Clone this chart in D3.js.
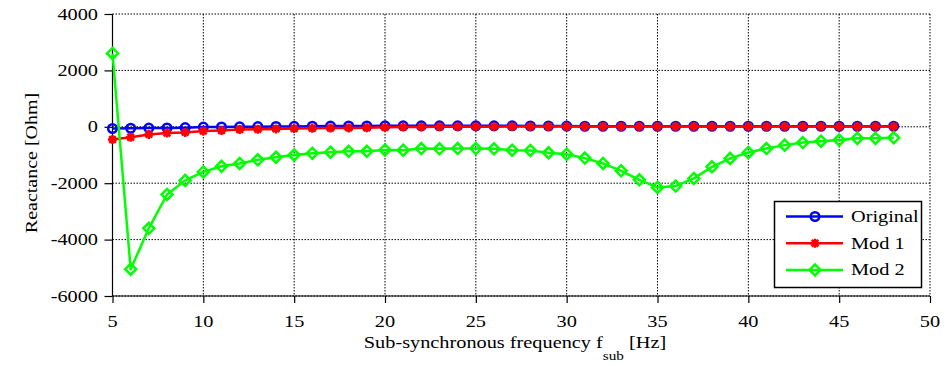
<!DOCTYPE html>
<html>
<head>
<meta charset="utf-8">
<script src="https://cdn.jsdelivr.net/npm/d3@7"></script>
<style>
  body { margin: 0; background: #fff; }
  svg { display: block; }
</style>
</head>
<body>
<svg id="chart" width="946" height="365"></svg>
<script>
// data
const freq = [5, 6, 7, 8, 9, 10, 11, 12, 13, 14, 15, 16, 17, 18, 19, 20, 21, 22, 23, 24, 25, 26,
  27, 28, 29, 30, 31, 32, 33, 34, 35, 36, 37, 38, 39, 40, 41, 42, 43, 44, 45, 46, 47, 48];
const original = [-60, -50, -45, -40, -30, -10, -5, 0, 5, 10, 15, 20, 25, 30, 30, 35, 35, 35, 35, 35, 35, 35,
  35, 30, 30, 25, 20, 20, 20, 20, 20, 20, 20, 20, 20, 20, 20, 20, 20, 20, 20, 20, 20, 20];
const mod1 = [-450, -370, -270, -220, -200, -150, -130, -100, -85, -75, -60, -50, -45, -40, -35, -20, -10, -5, 0, 5, 5, 5,
  10, 10, 10, 10, 10, 10, 10, 10, 10, 10, 10, 10, 10, 10, 10, 10, 10, 10, 10, 10, 10, 10];
const mod2 = [2600, -5050, -3600, -2400, -1900, -1600, -1400, -1300, -1170, -1080, -1000, -940, -900, -870, -870, -820, -830, -770, -780, -770, -770, -780,
  -830, -840, -920, -970, -1110, -1300, -1560, -1880, -2150, -2100, -1830, -1420, -1120, -910, -770, -650, -560, -510, -470, -410, -410, -390];

const xTicks = [5, 10, 15, 20, 25, 30, 35, 40, 45, 50];
const yTicks = [-6000, -4000, -2000, 0, 2000, 4000];
const seriesNames = ['Original', 'Mod 1', 'Mod 2'];
const seriesColors = ['#0000ff', '#ff0000', '#00ff00'];
const seriesMarkers = ['circle', 'star', 'diamond'];

const FONT = '"Liberation Serif", "Times New Roman", serif';
const svg = d3.select('#chart');
const plotL = 112.5, plotR = 930, plotT = 14, plotB = 296;
const SX = 1.27; // text in the picture is stretched sideways
const LW = 2.5;

const x = d3.scaleLinear().domain([5, 50]).range([plotL, plotR]);
const y = d3.scaleLinear().domain([-6000, 4000]).range([plotB, plotT]);

function stretchedText(px, py, str, anchor) {
  const g = svg.append('g').attr('transform', `translate(${px},${py}) scale(${SX},1)`);
  return g.append('text')
    .attr('text-anchor', anchor || 'start')
    .attr('font-family', FONT)
    .attr('font-size', 16)
    .attr('fill', '#000')
    .text(str);
}

// grid
const grid = svg.append('g')
  .attr('stroke', '#000')
  .attr('stroke-width', 1)
  .attr('stroke-dasharray', '1.5,1.5');
grid.selectAll('line.gx').data(xTicks).enter().append('line')
  .attr('x1', d => x(d)).attr('x2', d => x(d))
  .attr('y1', plotT).attr('y2', plotB);
grid.selectAll('line.gy').data(yTicks).enter().append('line')
  .attr('x1', plotL).attr('x2', plotR)
  .attr('y1', d => y(d)).attr('y2', d => y(d));

// axes
const xAxis = d3.axisBottom(x).tickValues(xTicks).tickSize(7).tickFormat('');
const yAxis = d3.axisLeft(y).tickValues(yTicks).tickSize(8).tickFormat('');
svg.append('g').attr('transform', `translate(0,${plotB})`).call(xAxis)
  .call(g => g.select('.domain').attr('d', `M${plotL},0H${plotR}`));
svg.append('g').attr('transform', `translate(${plotL},0)`).call(yAxis)
  .call(g => g.select('.domain').attr('d', `M0,${plotT}V${plotB}`));
svg.selectAll('.domain, .tick line').attr('stroke', '#000').attr('stroke-width', 1.2);

xTicks.forEach(t => stretchedText(x(t), 327, String(t), 'middle'));
yTicks.forEach(t => stretchedText(98, y(t) + 5.5, String(t), 'end'));

// axis titles
const xl = svg.append('g').attr('transform', `translate(515,348) scale(${SX},1)`)
  .append('text').attr('text-anchor', 'middle')
  .attr('font-family', FONT).attr('font-size', 16).attr('fill', '#000');
xl.append('tspan').text('Sub-synchronous frequency f');
xl.append('tspan').attr('dy', 12).attr('font-size', 12).text('sub');
xl.append('tspan').attr('dy', -12).text(' [Hz]');

svg.append('g').attr('transform', 'translate(37,163) rotate(-90) scale(1,0.85)')
  .append('text').attr('text-anchor', 'middle')
  .attr('font-family', FONT).attr('font-size', 20).attr('fill', '#000')
  .text('Reactance [Ohm]');

// markers
function drawMarker(g, kind, color) {
  if (kind === 'circle') {
    g.append('circle').attr('r', 4.3).attr('fill', 'none')
      .attr('stroke', color).attr('stroke-width', LW);
  } else if (kind === 'diamond') {
    g.append('path').attr('d', 'M0,-5.5L5.5,0L0,5.5L-5.5,0Z').attr('fill', 'none')
      .attr('stroke', color).attr('stroke-width', LW);
  } else {
    g.append('path').attr('d', 'M-4.5,0H4.5M0,-4.5V4.5M-3.3,-3.3L3.3,3.3M-3.3,3.3L3.3,-3.3')
      .attr('stroke', color).attr('stroke-width', LW);
  }
}

const allSeries = [original, mod1, mod2];
const line = d3.line().x(d => x(d[0])).y(d => y(d[1]));

allSeries.forEach((vals, i) => {
  const pts = freq.map((f, j) => [f, vals[j]]);
  const g = svg.append('g');
  g.append('path').datum(pts).attr('d', line)
    .attr('fill', 'none').attr('stroke', seriesColors[i]).attr('stroke-width', LW)
    .attr('stroke-linejoin', 'round');
  g.selectAll('g.m').data(pts).enter().append('g')
    .attr('transform', d => `translate(${x(d[0])},${y(d[1])})`)
    .each(function () { drawMarker(d3.select(this), seriesMarkers[i], seriesColors[i]); });
});

// legend
const lg = svg.append('g');
lg.append('rect').attr('x', 774.5).attr('y', 201.5).attr('width', 147).attr('height', 86)
  .attr('fill', '#fff').attr('stroke', '#000').attr('stroke-width', 1.5);
seriesNames.forEach((name, i) => {
  const ly = 216.5 + i * 26.7;
  lg.append('line').attr('x1', 786).attr('x2', 843).attr('y1', ly).attr('y2', ly)
    .attr('stroke', seriesColors[i]).attr('stroke-width', LW);
  drawMarker(lg.append('g').attr('transform', `translate(815,${ly})`), seriesMarkers[i], seriesColors[i]);
  stretchedText(851, ly + 5.5, name, 'start');
});
</script>
</body>
</html>
